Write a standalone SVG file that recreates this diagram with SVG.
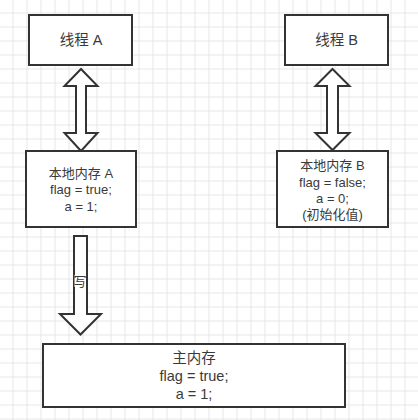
<svg xmlns="http://www.w3.org/2000/svg" width="418" height="420" viewBox="0 0 418 420">
<defs>
<pattern id="grid" patternUnits="userSpaceOnUse" x="12.5" y="12.5" width="14" height="14">
<rect x="0" y="0" width="1" height="14" fill="#e6e6e6"/>
<rect x="0" y="0" width="14" height="1" fill="#e6e6e6"/>
</pattern>
<style>
.box{fill:#fff;stroke:#333;stroke-width:2}
.arr{fill:#fff;stroke:#333;stroke-width:2;stroke-linejoin:miter}
text{font-family:"Liberation Sans","Noto Sans CJK SC",sans-serif;fill:#3a3a3a;text-anchor:middle}
.t14{font-size:14.5px}
.t12{font-size:13px}
.t13{font-size:14.5px}
</style>
</defs>
<rect width="418" height="420" fill="#fff"/>
<rect width="418" height="420" fill="url(#grid)"/>
<g id="connectors">
<polygon class="arr" points="81,69 97.5,86 86,86 86,133 97.5,133 81,151 64.5,133 76,133 76,86 64.5,86"/>
<polygon class="arr" points="332.5,69 349.5,86 338,86 338,133 349.5,133 332.5,150 315.5,133 327,133 327,86 315.5,86"/>
<polygon class="arr" points="74,236 87,236 87,314 101,314 80.5,334.5 60,314 74,314"/>
<rect x="74.5" y="275" width="11" height="12" fill="#fff"/>
<text class="t12" x="80" y="286">写</text>
</g>
<g id="threadA">
<rect class="box" x="29" y="15" width="103" height="50"/>
<text class="t14" x="81" y="45">线程 A</text>
</g>
<g id="threadB">
<rect class="box" x="285" y="15" width="103" height="50"/>
<text class="t14" x="336.5" y="45">线程 B</text>
</g>
<g id="localA">
<rect class="box" x="26" y="151" width="110" height="76"/>
<text class="t12" x="81" y="177.5">本地内存 A</text>
<text class="t12" x="81" y="194">flag = true;</text>
<text class="t12" x="81" y="210.5">a = 1;</text>
</g>
<g id="localB">
<rect class="box" x="277" y="151" width="111" height="76"/>
<text class="t12" x="332.5" y="169.5">本地内存 B</text>
<text class="t12" x="332.5" y="186.5">flag = false;</text>
<text class="t12" x="332.5" y="203">a = 0;</text>
<text class="t12" x="332.5" y="219">(初始化值)</text>
</g>
<g id="mainMemory">
<rect class="box" x="43" y="344" width="302" height="63"/>
<text class="t13" x="194" y="363">主内存</text>
<text class="t13" x="194" y="381">flag = true;</text>
<text class="t13" x="194" y="398.5">a = 1;</text>
</g>
</svg>
